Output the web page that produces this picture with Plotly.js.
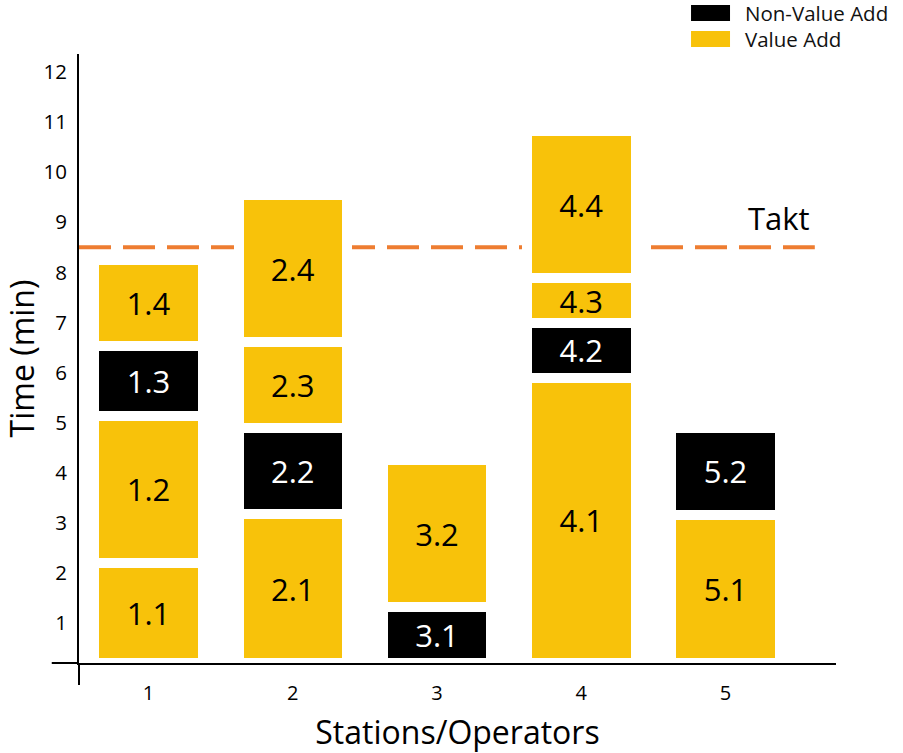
<!DOCTYPE html>
<html>
<head>
<meta charset="utf-8">
<script src="https://cdn.plot.ly/plotly-3.0.1.min.js"></script>
<style>
  html, body { margin: 0; padding: 0; background: #fff; }
  #chart { width: 903px; height: 753px; }
</style>
</head>
<body>
<div id="chart"></div>
<script>
// Work content per station: each task is stacked on its station's bar in order.
const stations = [1, 2, 3, 4, 5];
const taskLabels = ['1.1', '1.2', '1.3', '1.4',
                    '2.1', '2.2', '2.3', '2.4',
                    '3.1', '3.2',
                    '4.1', '4.2', '4.3', '4.4',
                    '5.1', '5.2'];
const taskStation = [1, 1, 1, 1,
                     2, 2, 2, 2,
                     3, 3,
                     4, 4, 4, 4,
                     5, 5];
const taskMinutes = [2.00, 2.93, 1.39, 1.73,
                     2.97, 1.72, 1.71, 2.94,
                     1.11, 2.94,
                     5.70, 1.08, 0.90, 2.94,
                     2.96, 1.73];
const taskKind = ['VA', 'VA', 'NVA', 'VA',
                  'VA', 'NVA', 'VA', 'VA',
                  'NVA', 'VA',
                  'VA', 'NVA', 'VA', 'VA',
                  'VA', 'NVA'];
const legendKinds = ['NVA', 'VA'];
const kindNames = { NVA: 'Non-Value Add', VA: 'Value Add' };
const taktTime = 8.3;
const yTicks = [1, 2, 3, 4, 5, 6, 7, 8, 9, 10, 11, 12];

const FONT = '"Open Sans", "Noto Sans", sans-serif';
const COLORS = { VA: '#F8C20A', NVA: '#000000' };
const TEXT_COLORS = { VA: '#000000', NVA: '#FFFFFF' };

// One stacked segment per task; the white outline opens the gaps between segments
const traces = taskLabels.map((lab, i) => {
  const k = taskKind[i];
  return {
    type: 'bar',
    name: kindNames[k],
    x: [taskStation[i]],
    y: [taskMinutes[i]],
    width: 0.752,
    text: [lab],
    textposition: 'inside',
    insidetextanchor: 'middle',
    textangle: 0,
    constraintext: 'none',
    textfont: { family: FONT, size: 31, color: TEXT_COLORS[k] },
    marker: { color: COLORS[k], line: { color: '#FFFFFF', width: 10 } },
    showlegend: false,
    hoverinfo: 'skip'
  };
});

// Key in the top-right corner: wide swatches with their labels
const keyShapes = [];
const keyNotes = [];
legendKinds.forEach((k, j) => {
  const top = 1.0805 - j * 0.0427;
  keyShapes.push({
    type: 'rect', xref: 'paper', yref: 'paper',
    x0: 0.8085, x1: 0.8600, y0: top - 0.0263, y1: top,
    fillcolor: COLORS[k], line: { width: 0 }
  });
  keyNotes.push({
    text: kindNames[k], xref: 'paper', yref: 'paper',
    x: 0.8770, xanchor: 'left', y: top - 0.0131, yanchor: 'middle',
    showarrow: false, font: { family: FONT, size: 20.5, color: '#111' }
  });
});

const layout = {
  width: 903, height: 753,
  margin: { l: 79, r: 67, t: 54, b: 90, pad: 0 },
  paper_bgcolor: '#FFFFFF', plot_bgcolor: '#FFFFFF',
  barmode: 'stack',
  font: { family: FONT, color: '#000' },
  showlegend: false,
  xaxis: {
    range: [0.518, 5.766],
    tickvals: stations, ticktext: stations.map(String),
    showgrid: false, zeroline: false,
    showline: true, linecolor: '#000', linewidth: 2,
    ticks: '', ticklabelstandoff: 11,
    tickfont: { family: FONT, size: 20, color: '#000' },
    title: { text: 'Stations/Operators', font: { family: FONT, size: 32, color: '#000' }, standoff: 21 },
    automargin: false, fixedrange: true
  },
  yaxis: {
    range: [0, 12.16],
    tickvals: yTicks, ticktext: yTicks.map(String),
    showgrid: false, zeroline: false,
    showline: true, linecolor: '#000', linewidth: 2,
    ticks: '', ticklabelstandoff: 6, ticklabelshift: 10,
    tickfont: { family: FONT, size: 20.5, color: '#000' },
    title: { text: 'Time (min)', font: { family: FONT, size: 32, color: '#000' }, standoff: 0 },
    automargin: false, fixedrange: true
  },
  shapes: [
    // Takt line behind the bars
    { type: 'line', xref: 'paper', x0: 0, x1: 0.972, yref: 'y', y0: taktTime, y1: taktTime,
      layer: 'below', line: { color: '#EE7D31', width: 4, dash: '32px,12px' } },
    // axis overhangs where the two axes cross
    { type: 'line', xref: 'paper', yref: 'paper', x0: -0.036, x1: 0, y0: 0, y1: 0,
      line: { color: '#000', width: 2 } },
    { type: 'line', xref: 'paper', yref: 'paper', x0: 0, x1: 0, y0: -0.036, y1: 0,
      line: { color: '#000', width: 2 } }
  ].concat(keyShapes),
  annotations: [
    { text: 'Takt', xref: 'paper', x: 0.925, xanchor: 'center',
      yref: 'y', y: taktTime, yanchor: 'bottom', yshift: 6,
      showarrow: false, font: { family: FONT, size: 31, color: '#000' } }
  ].concat(keyNotes)
};

Plotly.newPlot('chart', traces, layout, { displayModeBar: false, staticPlot: true });
</script>
</body>
</html>
